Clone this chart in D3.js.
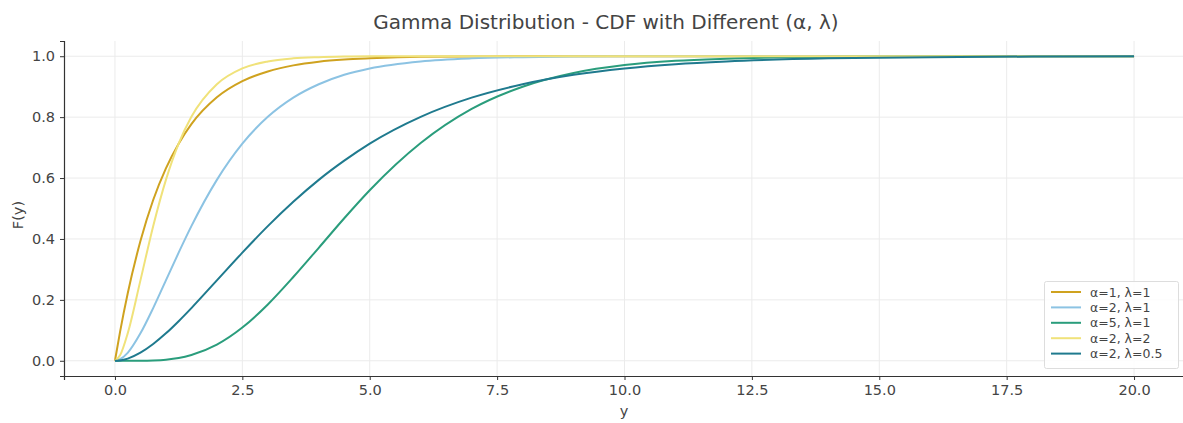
<!DOCTYPE html>
<html><head><meta charset="utf-8">
<script src="https://cdn.jsdelivr.net/npm/d3@7"></script>
<style>
html,body{margin:0;padding:0;background:#fff;}
svg{display:block;font-family:"DejaVu Sans",sans-serif;}
</style></head>
<body>
<svg id="chart" width="1183" height="423"></svg>
<script>
const xGrid = [0,0.1,0.25,0.5,0.75,1,1.25,1.5,2,2.5,3,3.5,4,4.5,5,6,7,8,9,10,11,12,14,16,18,20];
const cdfA1L1 = [0,0.095,0.221,0.393,0.528,0.632,0.713,0.777,0.865,0.918,0.950,0.970,0.982,0.989,0.993,0.998,0.999,1,1,1,1,1,1,1,1,1];
const cdfA2L1 = [0,0.005,0.026,0.090,0.173,0.264,0.355,0.442,0.594,0.713,0.801,0.864,0.908,0.939,0.960,0.983,0.993,0.997,0.999,1,1,1,1,1,1,1];
const cdfA5L1 = [0,0,0,0.0002,0.0012,0.0037,0.009,0.019,0.053,0.109,0.185,0.275,0.371,0.468,0.560,0.715,0.827,0.900,0.945,0.971,0.985,0.992,0.998,1,1,1];
const cdfA2L2 = [0,0.018,0.090,0.264,0.442,0.594,0.713,0.801,0.908,0.960,0.983,0.993,0.997,0.999,1,1,1,1,1,1,1,1,1,1,1,1];
const cdfA2L05 = [0,0.0012,0.0071,0.0265,0.055,0.090,0.130,0.173,0.264,0.355,0.442,0.522,0.594,0.657,0.713,0.801,0.864,0.908,0.939,0.960,0.974,0.983,0.993,0.997,0.999,1];
const seriesLabels = ["α=1, λ=1","α=2, λ=1","α=5, λ=1","α=2, λ=2","α=2, λ=0.5"];
const seriesValues = [cdfA1L1, cdfA2L1, cdfA5L1, cdfA2L2, cdfA2L05];
const seriesColors = ["#cfa21f","#8cc3e3","#2a9d7c","#f0e27a","#1f7a8e"];
const xTicks = [0,2.5,5,7.5,10,12.5,15,17.5,20];
const yTicks = [0,0.2,0.4,0.6,0.8,1.0];
const titleText = "Gamma Distribution - CDF with Different (α, λ)";

const svg = d3.select("#chart");
const x = d3.scaleLinear().domain([-1,21]).range([64,1185]);
const y = d3.scaleLinear().domain([-0.05,1.05]).range([376,41]);

// grid
svg.append("g").selectAll("line").data(xTicks).join("line")
  .attr("x1",d=>x(d)).attr("x2",d=>x(d)).attr("y1",41).attr("y2",376)
  .attr("stroke","#ebebeb").attr("stroke-width",1);
svg.append("g").selectAll("line").data(yTicks).join("line")
  .attr("y1",d=>y(d)).attr("y2",d=>y(d)).attr("x1",64).attr("x2",1185)
  .attr("stroke","#ebebeb").attr("stroke-width",1);

// lines
const line = d3.line().curve(d3.curveMonotoneX);
seriesValues.forEach((vals,i)=>{
  svg.append("path")
    .attr("d", line(xGrid.map((xv,j)=>[x(xv), y(vals[j])])))
    .attr("fill","none").attr("stroke",seriesColors[i]).attr("stroke-width",2);
});

// axes
const xAxis = svg.append("g").attr("transform","translate(0,376)")
  .call(d3.axisBottom(x).tickValues(xTicks).tickFormat(d3.format(".1f")).tickSize(4).tickPadding(5));
const yAxis = svg.append("g").attr("transform","translate(64,0)")
  .call(d3.axisLeft(y).tickValues(yTicks).tickFormat(d3.format(".1f")).tickSize(4).tickPadding(5));
[xAxis,yAxis].forEach(a=>{
  a.select(".domain").attr("stroke","#333").attr("stroke-width",1.2);
  a.selectAll(".tick line").attr("stroke","#333");
  a.selectAll(".tick text").attr("fill","#444").style("font-size","14.5px").style("font-family","DejaVu Sans, sans-serif");
});

// title and labels
svg.append("text").attr("x",606).attr("y",29).attr("text-anchor","middle")
  .attr("fill","#444").style("font-size","20px").text(titleText);
svg.append("text").attr("x",624).attr("y",416).attr("text-anchor","middle")
  .attr("fill","#444").style("font-size","14.5px").text("y");
svg.append("text").attr("transform","translate(23,215) rotate(-90)").attr("text-anchor","middle")
  .attr("fill","#444").style("font-size","14.5px").text("F(y)");

// legend
const lg = svg.append("g");
lg.append("rect").attr("x",1044.5).attr("y",281.5).attr("width",134).attr("height",87)
  .attr("fill","#fff").attr("fill-opacity",0.85).attr("stroke","#ddd").attr("rx",2);
seriesLabels.forEach((lab,i)=>{
  const yy = 292 + i*15.4;
  lg.append("line").attr("x1",1051).attr("x2",1081).attr("y1",yy).attr("y2",yy)
    .attr("stroke",seriesColors[i]).attr("stroke-width",2);
  lg.append("text").attr("x",1090).attr("y",yy+4.5).attr("fill","#444")
    .style("font-size","12.5px").text(lab);
});
</script>
</body></html>
